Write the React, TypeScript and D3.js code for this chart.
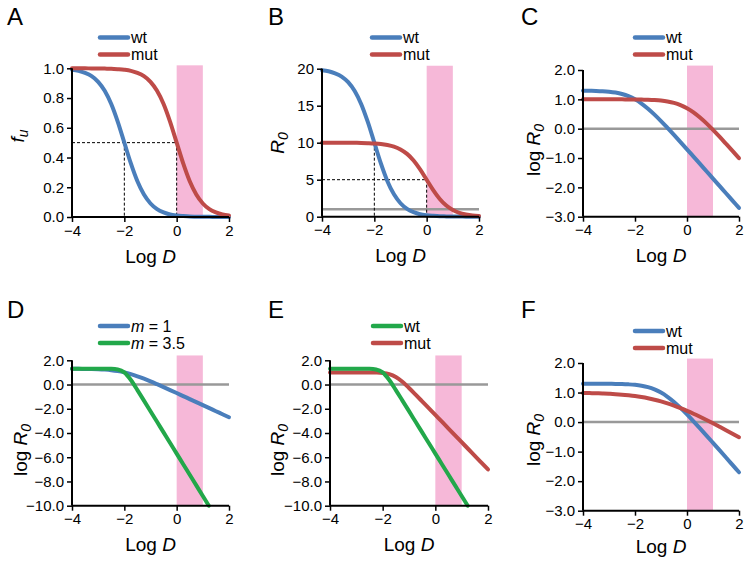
import { useEffect, useRef } from 'react';
import * as d3 from 'd3';

// x grid (Log D), shared by all curves
const logD = [
  -4, -3.75, -3.5, -3.25, -3, -2.75, -2.5, -2.25, -2, -1.75, -1.5, -1.25, -1,
  -0.75, -0.5, -0.25, 0, 0.25, 0.5, 0.75, 1, 1.25, 1.5, 1.75, 2
];
const xTicks = [-4, -2, 0, 2];

// A: fraction unbound
const fuWt = [
  0.99, 0.983, 0.969, 0.947, 0.909, 0.849, 0.76, 0.64, 0.5, 0.36, 0.24, 0.151, 0.091,
  0.053, 0.031, 0.017, 0.01, 0.006, 0.003, 0.002, 0.001, 0.001, 0, 0, 0
];
const fuMut = [
  1, 1, 1, 0.999, 0.999, 0.998, 0.997, 0.994, 0.99, 0.983, 0.969, 0.947, 0.909,
  0.849, 0.76, 0.64, 0.5, 0.36, 0.24, 0.151, 0.091, 0.053, 0.031, 0.017, 0.01
];

// B: R0
const r0Wt = [
  19.8, 19.66, 19.38, 18.94, 18.18, 16.98, 15.2, 12.8, 10, 7.2, 4.8, 3.02, 1.82,
  1.06, 0.62, 0.34, 0.2, 0.12, 0.06, 0.04, 0.02, 0.02, 0, 0, 0
];
const r0Mut = [
  10, 10, 10, 9.99, 9.99, 9.98, 9.97, 9.94, 9.9, 9.83, 9.69, 9.47, 9.09,
  8.49, 7.6, 6.4, 5, 3.6, 2.4, 1.51, 0.91, 0.53, 0.31, 0.17, 0.1
];

// C (and D m = 1): log R0
const logR0Wt = [
  1.297, 1.294, 1.288, 1.278, 1.26, 1.23, 1.182, 1.107, 1.0, 0.857, 0.681, 0.48, 0.26,
  0.027, -0.212, -0.456, -0.703, -0.952, -1.201, -1.451, -1.7, -1.95, -2.2, -2.45, -2.7
];
const logR0Mut = [
  1, 1, 1, 1, 1, 0.999, 0.999, 0.998, 0.996, 0.992, 0.986, 0.976, 0.959,
  0.929, 0.881, 0.806, 0.699, 0.556, 0.38, 0.18, -0.041, -0.273, -0.514, -0.757, -1.004
];

// D / E: steep curve (m = 3.5), ends at the bottom of the axis
const logDSteep = [
  -4, -3.75, -3.5, -3.25, -3, -2.75, -2.5, -2.25, -2, -1.75, -1.5, -1.25, -1,
  -0.75, -0.5, -0.25, 0, 0.25, 0.5, 0.75, 1, 1.23
];
const logR0Steep = [
  1.301, 1.301, 1.301, 1.301, 1.301, 1.3, 1.293, 1.247, 1.0, 0.372, -0.456, -1.325, -2.199,
  -3.074, -3.949, -4.824, -5.699, -6.574, -7.449, -8.324, -9.199, -10
];

// E: mut
const logR0MutE = [
  1, 1, 1, 1, 1, 0.999, 0.997, 0.988, 0.958, 0.862, 0.626, 0.223, -0.283,
  -0.829, -1.387, -1.948, -2.51, -3.07, -3.635, -4.198, -4.76, -5.32, -5.885, -6.448, -7.01
];

// F
const logR0WtF = [
  1.3, 1.3, 1.3, 1.299, 1.297, 1.293, 1.288, 1.277, 1.26, 1.23, 1.182, 1.107, 1.0,
  0.857, 0.682, 0.48, 0.26, 0.027, -0.212, -0.456, -0.703, -0.951, -1.2, -1.45, -1.7
];
const logR0MutF = [
  0.986, 0.982, 0.976, 0.969, 0.959, 0.946, 0.929, 0.907, 0.881, 0.847, 0.806, 0.757, 0.699,
  0.632, 0.556, 0.472, 0.381, 0.283, 0.179, 0.071, -0.041, -0.157, -0.274, -0.393, -0.513
];

const ticksFu = [0, 0.2, 0.4, 0.6, 0.8, 1.0];
const ticksR0 = [0, 5, 10, 15, 20];
const ticksLog3 = [-3, -2, -1, 0, 1, 2];
const ticksLog10 = [-10, -8, -6, -4, -2, 0, 2];

const BLUE = '#4a7ebb';
const RED = '#be4b48';
const GREEN = '#22a84a';
const PINK = '#f6b8d8';
const GRAY = '#999999';
const FONT = "'Liberation Sans', Arial, sans-serif";

type Seg = [number, number, number, number];
type TitlePart = { t: string; italic?: boolean; sub?: boolean };

interface PanelCfg {
  letter: string;
  letterX: number;
  letterY: number;
  left: number;
  right: number;
  top: number;
  bottom: number;
  yDomain: [number, number];
  yTicks: number[];
  yFmt: (d: number) => string;
  bandTop: number;
  refLine: number | null;
  dashes: Seg[];
  series: { x: number[]; y: number[]; color: string }[];
  legend: { color: string; label: TitlePart[] }[];
  legendX: number;
  legendY: number;
  yTitle: TitlePart[];
  yTitleX: number;
  yTitleY: number;
  xTitleY: number;
}

const f1 = d3.format('.1f');
const f0 = d3.format('d');

const wtMut = (a: string, b: string) => [
  { color: a, label: [{ t: 'wt' }] },
  { color: b, label: [{ t: 'mut' }] }
];
const logR0Title: TitlePart[] = [{ t: 'log ' }, { t: 'R', italic: true }, { t: '0', italic: true, sub: true }];

const panels: PanelCfg[] = [
  {
    letter: 'A', letterX: 7, letterY: 25,
    left: 72, right: 229, top: 68.3, bottom: 217,
    yDomain: [0, 1], yTicks: ticksFu, yFmt: f1, bandTop: 1.02, refLine: null,
    dashes: [[-4, 0.5, 0, 0.5], [-2, 0.5, -2, 0], [0, 0.5, 0, 0]],
    series: [
      { x: logD, y: fuWt, color: BLUE },
      { x: logD, y: fuMut, color: RED }
    ],
    legend: wtMut(BLUE, RED), legendX: 100, legendY: 37.5,
    yTitle: [{ t: 'f', italic: true }, { t: 'u', italic: true, sub: true }],
    yTitleX: 24, yTitleY: 136, xTitleY: 263
  },
  {
    letter: 'B', letterX: 268, letterY: 25,
    left: 322, right: 479, top: 68.7, bottom: 216.7,
    yDomain: [0, 20], yTicks: ticksR0, yFmt: f0, bandTop: 20.4, refLine: 1,
    dashes: [[-4, 10, -2, 10], [-2, 10, -2, 0], [-4, 5, 0, 5], [0, 5, 0, 0]],
    series: [
      { x: logD, y: r0Wt, color: BLUE },
      { x: logD, y: r0Mut, color: RED }
    ],
    legend: wtMut(BLUE, RED), legendX: 372, legendY: 37.5,
    yTitle: [{ t: 'R', italic: true }, { t: '0', italic: true, sub: true }],
    yTitleX: 284, yTitleY: 143, xTitleY: 262
  },
  {
    letter: 'C', letterX: 521, letterY: 25,
    left: 583, right: 739, top: 70, bottom: 216.7,
    yDomain: [-3, 2], yTicks: ticksLog3, yFmt: f1, bandTop: 2.15, refLine: 0,
    dashes: [],
    series: [
      { x: logD, y: logR0Wt, color: BLUE },
      { x: logD, y: logR0Mut, color: RED }
    ],
    legend: wtMut(BLUE, RED), legendX: 635, legendY: 37.5,
    yTitle: logR0Title, yTitleX: 540, yTitleY: 150, xTitleY: 262
  },
  {
    letter: 'D', letterX: 7, letterY: 318,
    left: 72, right: 229, top: 360.3, bottom: 505.7,
    yDomain: [-10, 2], yTicks: ticksLog10, yFmt: f1, bandTop: 2.4, refLine: 0,
    dashes: [],
    series: [
      { x: logD, y: logR0Wt, color: BLUE },
      { x: logDSteep, y: logR0Steep, color: GREEN }
    ],
    legend: [
      { color: BLUE, label: [{ t: 'm', italic: true }, { t: ' = 1' }] },
      { color: GREEN, label: [{ t: 'm', italic: true }, { t: ' = 3.5' }] }
    ],
    legendX: 100, legendY: 326,
    yTitle: logR0Title, yTitleX: 27, yTitleY: 450, xTitleY: 551
  },
  {
    letter: 'E', letterX: 268, letterY: 318,
    left: 330, right: 488, top: 360.3, bottom: 505.7,
    yDomain: [-10, 2], yTicks: ticksLog10, yFmt: f1, bandTop: 2.4, refLine: 0,
    dashes: [],
    series: [
      { x: logD, y: logR0MutE, color: RED },
      { x: logDSteep, y: logR0Steep, color: GREEN }
    ],
    legend: wtMut(GREEN, RED), legendX: 373, legendY: 326,
    yTitle: logR0Title, yTitleX: 284, yTitleY: 450, xTitleY: 551
  },
  {
    letter: 'F', letterX: 521, letterY: 318,
    left: 583, right: 739, top: 363, bottom: 510.7,
    yDomain: [-3, 2], yTicks: ticksLog3, yFmt: f1, bandTop: 2.15, refLine: 0,
    dashes: [],
    series: [
      { x: logD, y: logR0WtF, color: BLUE },
      { x: logD, y: logR0MutF, color: RED }
    ],
    legend: wtMut(BLUE, RED), legendX: 635, legendY: 331,
    yTitle: logR0Title, yTitleX: 540, yTitleY: 440, xTitleY: 553
  }
];

function addParts(
  text: d3.Selection<SVGTextElement, unknown, null, undefined>,
  parts: TitlePart[],
  subSize: number
) {
  parts.forEach((p) => {
    const ts = text.append('tspan').text(p.t);
    if (p.italic) ts.attr('font-style', 'italic');
    if (p.sub) ts.attr('font-size', subSize).attr('baseline-shift', '-28%');
  });
}

export default function App() {
  const svgRef = useRef<SVGSVGElement>(null);

  useEffect(() => {
    if (!svgRef.current) return;
    const svg = d3.select(svgRef.current);
    svg.selectAll('*').remove();

    svg.append('rect').attr('width', 751).attr('height', 566).attr('fill', '#fff');

    panels.forEach((p) => {
      const g = svg.append('g');
      const x = d3.scaleLinear().domain([-4, 2]).range([p.left, p.right]);
      const y = d3.scaleLinear().domain(p.yDomain).range([p.bottom, p.top]);

      // pink band, Log D 0..1
      g.append('rect')
        .attr('x', x(0))
        .attr('width', x(1) - x(0))
        .attr('y', y(p.bandTop))
        .attr('height', y(p.yDomain[0]) - y(p.bandTop))
        .attr('fill', PINK);

      // reference line
      if (p.refLine !== null) {
        g.append('line')
          .attr('x1', x(-4))
          .attr('x2', x(2))
          .attr('y1', y(p.refLine))
          .attr('y2', y(p.refLine))
          .attr('stroke', GRAY)
          .attr('stroke-width', 2.5);
      }

      // dashed guides
      g.selectAll('.dash')
        .data(p.dashes)
        .enter()
        .append('line')
        .attr('x1', (d) => x(d[0]))
        .attr('y1', (d) => y(d[1]))
        .attr('x2', (d) => x(d[2]))
        .attr('y2', (d) => y(d[3]))
        .attr('stroke', '#000')
        .attr('stroke-width', 1)
        .attr('stroke-dasharray', '3,2');

      // curves
      p.series.forEach((s) => {
        const pts = s.x.map((xv, i) => [xv, s.y[i]] as [number, number]);
        const line = d3
          .line<[number, number]>()
          .x((d) => x(d[0]))
          .y((d) => y(d[1]))
          .curve(d3.curveMonotoneX);
        g.append('path')
          .datum(pts)
          .attr('fill', 'none')
          .attr('stroke', s.color)
          .attr('stroke-width', 4)
          .attr('stroke-linecap', 'round')
          .attr('d', line);
      });

      // axes
      const yAxis = g
        .append('g')
        .attr('transform', `translate(${p.left},0)`)
        .call(d3.axisLeft(y).tickValues(p.yTicks).tickFormat((d) => p.yFmt(d as number)).tickSize(5).tickPadding(3));
      const xAxis = g
        .append('g')
        .attr('transform', `translate(0,${p.bottom})`)
        .call(d3.axisBottom(x).tickValues(xTicks).tickFormat((d) => f0(d as number)).tickSize(5).tickPadding(3));
      [yAxis, xAxis].forEach((ax) => {
        ax.select('.domain').attr('stroke', '#000').attr('stroke-width', 2);
        ax.selectAll('.tick line').attr('stroke', '#000').attr('stroke-width', 1.5);
        ax.selectAll('.tick text')
          .attr('font-family', FONT)
          .attr('font-size', 15)
          .attr('fill', '#000');
      });
      yAxis.select('.domain').attr('d', `M0,${p.bottom}V${p.top}`);
      xAxis.select('.domain').attr('d', `M${p.left},0H${p.right}`);

      // panel letter
      g.append('text')
        .attr('x', p.letterX)
        .attr('y', p.letterY)
        .attr('font-family', FONT)
        .attr('font-size', 24)
        .text(p.letter);

      // legend
      p.legend.forEach((l, i) => {
        const ly = p.legendY + i * 17;
        g.append('line')
          .attr('x1', p.legendX)
          .attr('x2', p.legendX + 28)
          .attr('y1', ly)
          .attr('y2', ly)
          .attr('stroke', l.color)
          .attr('stroke-width', 4.5)
          .attr('stroke-linecap', 'round');
        const t = g
          .append('text')
          .attr('x', p.legendX + 31)
          .attr('y', ly + 5.5)
          .attr('font-family', FONT)
          .attr('font-size', 16);
        addParts(t, l.label, 12);
      });

      // x title
      const xt = g
        .append('text')
        .attr('x', (p.left + p.right) / 2)
        .attr('y', p.xTitleY)
        .attr('text-anchor', 'middle')
        .attr('font-family', FONT)
        .attr('font-size', 19);
      addParts(xt, [{ t: 'Log ' }, { t: 'D', italic: true }], 13);

      // y title
      const yt = g
        .append('text')
        .attr('transform', `translate(${p.yTitleX},${p.yTitleY}) rotate(-90)`)
        .attr('text-anchor', 'middle')
        .attr('font-family', FONT)
        .attr('font-size', 19);
      addParts(yt, p.yTitle, 14);
    });
  }, []);

  return (
    <div style={{ position: 'fixed', left: 0, top: 0 }}>
      <svg ref={svgRef} width={751} height={566} style={{ display: 'block' }} />
    </div>
  );
}
